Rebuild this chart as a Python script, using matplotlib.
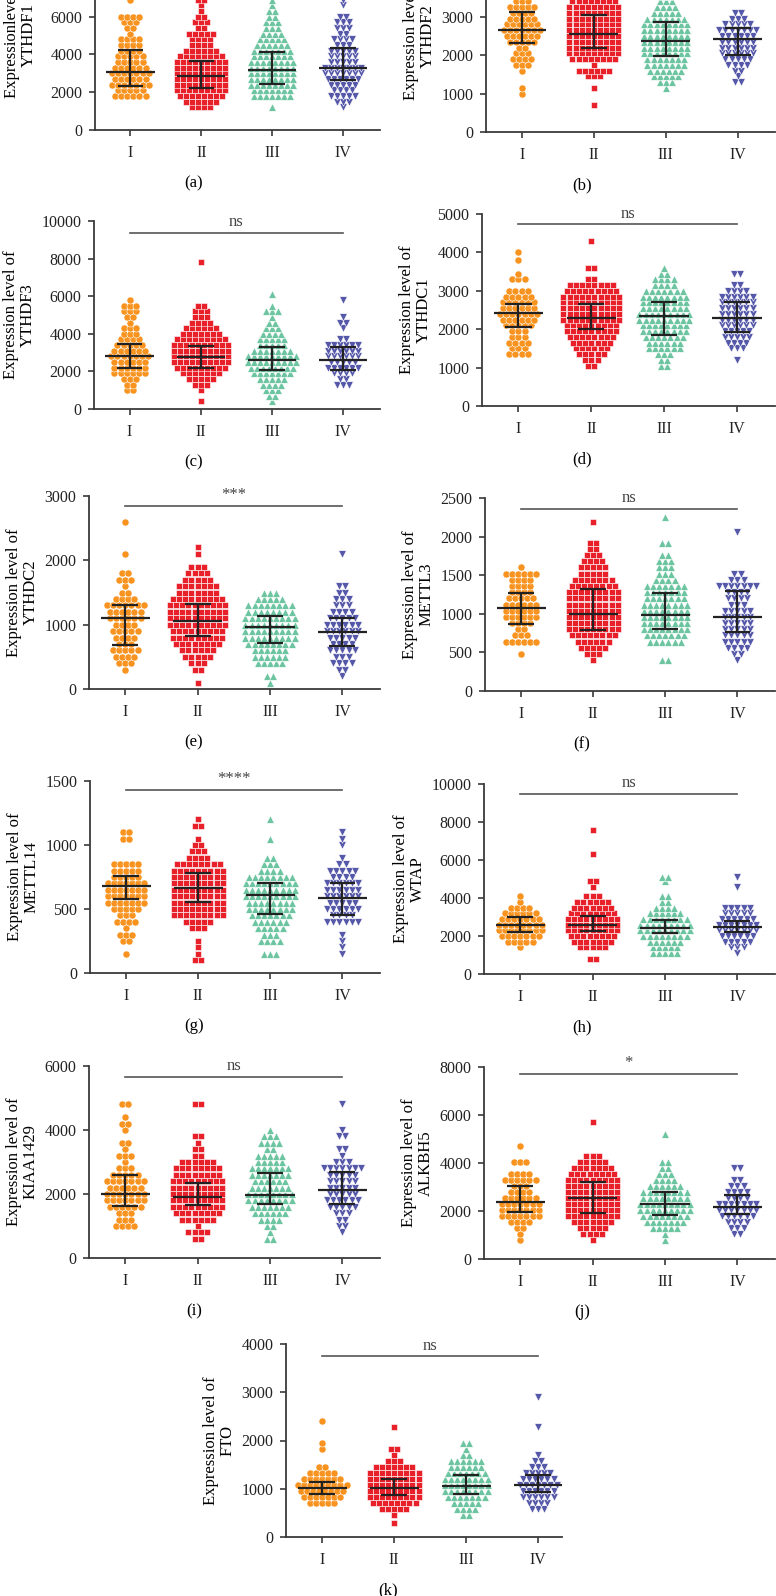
import matplotlib.pyplot as plt

plt.rcParams['font.family'] = ['Liberation Serif', 'DejaVu Serif']

groups = ['I', 'II', 'III', 'IV']
colors = ['#F7931E', '#E8202A', '#6CC5A0', '#5558A8']
markers = ['o', 's', '^', 'v']
msizes = [26, 22, 30, 30]

# each panel: row levels of the swarm and how many points sit in each row, per stage
# (a) YTHDF1
a_levels = [1200, 1500, 1800, 2100, 2400, 2700, 3000, 3300, 3600, 3900, 4200, 4500, 4800, 5100, 5400, 5700, 6000, 6300, 6600, 6900, 7200]
a_I = [0, 0, 6, 5, 7, 6, 7, 6, 5, 5, 4, 4, 4, 1, 2, 3, 4, 0, 0, 1, 0]
a_II = [4, 6, 8, 9, 9, 9, 9, 9, 9, 8, 6, 4, 4, 5, 2, 3, 2, 1, 1, 2, 1]
a_III = [1, 0, 7, 7, 8, 8, 8, 8, 8, 7, 7, 6, 5, 4, 3, 3, 2, 2, 1, 1, 0]
a_IV = [1, 3, 5, 4, 5, 6, 7, 7, 5, 5, 5, 3, 4, 2, 3, 3, 2, 0, 1, 1, 0]
a_med = [3050, 2850, 3150, 3300]
a_q1 = [2350, 2200, 2450, 2650]
a_q3 = [4250, 3650, 4150, 4330]

# (b) YTHDF2
b_levels = [700, 850, 1000, 1150, 1300, 1450, 1600, 1750, 1900, 2050, 2200, 2350, 2500, 2650, 2800, 2950, 3100, 3250, 3400, 3550, 3700]
b_I = [0, 0, 1, 1, 0, 0, 1, 3, 4, 3, 2, 5, 6, 7, 6, 5, 4, 5, 3, 2, 1]
b_II = [1, 0, 0, 1, 0, 3, 6, 1, 8, 9, 9, 9, 9, 9, 9, 9, 9, 9, 8, 5, 3]
b_III = [0, 0, 0, 1, 3, 5, 6, 7, 7, 8, 8, 8, 8, 8, 8, 7, 5, 4, 3, 2, 1]
b_IV = [0, 0, 0, 0, 2, 1, 2, 4, 5, 6, 6, 6, 6, 7, 5, 3, 2, 0, 0, 1, 0]
b_med = [2650, 2560, 2370, 2430]
b_q1 = [2320, 2180, 1980, 2010]
b_q3 = [3130, 3050, 2870, 2720]

# (c) YTHDF3
c_levels = [400, 700, 1000, 1300, 1600, 1900, 2200, 2500, 2800, 3100, 3400, 3700, 4000, 4300, 4600, 4900, 5200, 5500, 5800, 6100, 7800]
c_I = [0, 0, 2, 2, 3, 6, 6, 6, 7, 6, 5, 4, 3, 3, 1, 2, 3, 3, 1, 0, 0]
c_II = [1, 0, 1, 3, 5, 7, 9, 10, 10, 10, 10, 9, 7, 6, 4, 3, 3, 2, 0, 0, 1]
c_III = [1, 2, 3, 4, 5, 7, 8, 9, 9, 7, 5, 5, 4, 3, 2, 1, 3, 1, 0, 1, 0]
c_IV = [0, 0, 0, 3, 2, 4, 6, 5, 6, 6, 6, 2, 0, 1, 2, 1, 0, 0, 1, 0, 0]
c_med = [2820, 2750, 2600, 2600]
c_q1 = [2200, 2180, 2050, 2050]
c_q3 = [3470, 3360, 3280, 3300]

# (d) YTHDC1
d_levels = [1050, 1200, 1350, 1500, 1650, 1800, 1950, 2100, 2250, 2400, 2550, 2700, 2850, 3000, 3150, 3300, 3450, 3600, 3800, 4000, 4300]
d_I = [0, 0, 4, 3, 4, 3, 3, 5, 6, 7, 6, 6, 5, 4, 0, 3, 1, 0, 1, 1, 0]
d_II = [2, 3, 5, 6, 7, 8, 9, 9, 10, 10, 10, 10, 10, 9, 8, 2, 0, 2, 0, 0, 1]
d_III = [2, 2, 3, 6, 6, 7, 8, 8, 9, 9, 8, 8, 8, 7, 4, 4, 2, 1, 0, 0, 0]
d_IV = [0, 1, 0, 3, 4, 5, 5, 6, 6, 6, 6, 6, 6, 4, 2, 0, 2, 0, 0, 0, 0]
d_med = [2420, 2300, 2350, 2300]
d_q1 = [2060, 2000, 1860, 1940]
d_q3 = [2650, 2650, 2720, 2720]

# (e) YTHDC2
e_levels = [100, 200, 300, 400, 500, 600, 700, 800, 900, 1000, 1100, 1200, 1300, 1400, 1500, 1600, 1700, 1800, 1900, 2000, 2100, 2200, 2600]
e_I = [0, 0, 1, 3, 4, 5, 3, 4, 5, 4, 6, 6, 7, 4, 2, 1, 3, 2, 0, 0, 1, 0, 1]
e_II = [1, 0, 2, 3, 5, 6, 8, 9, 9, 10, 10, 10, 10, 9, 7, 7, 5, 4, 3, 0, 1, 1, 0]
e_III = [1, 2, 0, 5, 6, 6, 8, 9, 9, 9, 9, 8, 8, 5, 3, 0, 0, 0, 0, 0, 0, 0, 0]
e_IV = [0, 1, 2, 4, 3, 5, 4, 5, 6, 6, 5, 4, 3, 3, 2, 2, 0, 0, 0, 0, 1, 0, 0]
e_med = [1100, 1050, 960, 880]
e_q1 = [690, 830, 720, 670]
e_q3 = [1310, 1320, 1130, 1110]

# (f) METTL3
f_levels = [400, 480, 560, 640, 720, 800, 880, 960, 1040, 1120, 1200, 1280, 1360, 1440, 1520, 1600, 1680, 1760, 1840, 1920, 2060, 2190, 2250]
f_I = [0, 1, 0, 6, 3, 2, 4, 6, 6, 6, 5, 4, 4, 4, 6, 1, 0, 0, 0, 0, 0, 0, 0]
f_II = [1, 3, 5, 6, 8, 9, 9, 9, 9, 9, 9, 9, 8, 7, 5, 5, 4, 3, 2, 2, 0, 1, 0]
f_III = [2, 0, 0, 6, 7, 8, 8, 8, 8, 8, 7, 7, 7, 4, 3, 3, 3, 2, 0, 2, 0, 0, 1]
f_IV = [1, 2, 4, 5, 5, 5, 5, 5, 5, 3, 4, 4, 7, 3, 2, 0, 0, 0, 0, 0, 1, 0, 0]
f_med = [1070, 1000, 990, 960]
f_q1 = [870, 790, 800, 760]
f_q3 = [1270, 1320, 1270, 1290]

# (g) METTL14
g_levels = [100, 150, 200, 250, 300, 350, 400, 450, 500, 550, 600, 650, 700, 750, 800, 850, 900, 950, 1000, 1050, 1100, 1150, 1200]
g_I = [0, 1, 0, 2, 3, 1, 4, 3, 5, 7, 7, 7, 7, 5, 5, 5, 0, 0, 0, 2, 2, 0, 0]
g_II = [2, 1, 1, 1, 0, 3, 5, 9, 9, 9, 9, 9, 9, 9, 9, 8, 4, 3, 2, 1, 0, 2, 1]
g_III = [0, 3, 0, 4, 3, 5, 6, 7, 8, 8, 9, 9, 9, 8, 4, 3, 2, 0, 0, 1, 0, 0, 1]
g_IV = [0, 1, 1, 1, 1, 0, 6, 4, 6, 5, 6, 6, 6, 4, 5, 2, 1, 0, 1, 1, 1, 0, 0]
g_med = [680, 665, 610, 585]
g_q1 = [580, 555, 460, 450]
g_q3 = [760, 780, 700, 700]

# (h) WTAP
h_levels = [800, 1100, 1400, 1700, 2000, 2300, 2600, 2900, 3200, 3500, 3800, 4100, 4600, 4900, 5100, 6300, 7600]
h_I = [0, 0, 1, 5, 7, 8, 8, 7, 6, 4, 1, 1, 0, 0, 0, 0, 0]
h_II = [2, 0, 5, 7, 8, 9, 9, 9, 8, 7, 6, 3, 1, 2, 0, 1, 1]
h_III = [0, 5, 5, 6, 8, 9, 9, 8, 6, 4, 2, 2, 0, 1, 2, 0, 0]
h_IV = [0, 1, 3, 5, 6, 7, 7, 6, 5, 5, 0, 0, 1, 0, 1, 0, 0]
h_med = [2600, 2570, 2430, 2480]
h_q1 = [2200, 2250, 2150, 2200]
h_q3 = [3000, 3050, 2850, 2800]

# (i) KIAA1429
i_levels = [600, 800, 1000, 1200, 1400, 1600, 1800, 2000, 2200, 2400, 2600, 2800, 3000, 3200, 3400, 3600, 3800, 4000, 4200, 4400, 4600, 4800]
i_I = [0, 0, 4, 3, 3, 6, 7, 7, 6, 7, 5, 3, 1, 3, 1, 2, 0, 1, 2, 1, 0, 2]
i_II = [2, 4, 1, 6, 8, 9, 9, 9, 9, 9, 8, 8, 6, 2, 2, 1, 2, 0, 0, 0, 0, 2]
i_III = [2, 1, 2, 4, 6, 7, 8, 8, 7, 6, 7, 7, 5, 5, 2, 4, 3, 1, 0, 0, 0, 0]
i_IV = [0, 1, 2, 2, 3, 5, 6, 5, 5, 5, 5, 7, 3, 1, 2, 0, 2, 1, 0, 0, 0, 1]
i_med = [2000, 1900, 1960, 2120]
i_q1 = [1620, 1650, 1680, 1700]
i_q3 = [2600, 2350, 2660, 2690]

# (j) ALKBH5
j_levels = [800, 1050, 1300, 1550, 1800, 2050, 2300, 2550, 2800, 3050, 3300, 3550, 3800, 4050, 4300, 4700, 5200, 5700]
j_I = [1, 1, 2, 4, 7, 7, 7, 6, 4, 3, 6, 4, 0, 3, 0, 1, 0, 0]
j_II = [1, 4, 5, 7, 9, 9, 9, 9, 9, 9, 9, 8, 7, 5, 3, 0, 0, 1]
j_III = [1, 1, 5, 7, 8, 9, 9, 8, 8, 6, 4, 3, 2, 2, 0, 0, 1, 0]
j_IV = [0, 2, 3, 4, 6, 7, 7, 4, 4, 3, 2, 0, 2, 0, 0, 0, 0, 0]
j_med = [2380, 2530, 2300, 2150]
j_q1 = [1950, 1930, 1850, 1880]
j_q3 = [3050, 3200, 2780, 2650]

# (k) FTO
k_levels = [300, 450, 575, 700, 825, 950, 1075, 1200, 1325, 1450, 1575, 1700, 1825, 1950, 2275, 2400, 2900]
k_I = [0, 0, 0, 5, 7, 8, 9, 7, 5, 2, 0, 0, 1, 1, 0, 1, 0]
k_II = [1, 1, 5, 8, 9, 9, 9, 9, 9, 7, 3, 1, 2, 0, 1, 0, 0]
k_III = [0, 2, 4, 5, 7, 8, 8, 8, 7, 6, 6, 2, 1, 2, 0, 0, 0]
k_IV = [0, 0, 3, 4, 6, 6, 7, 6, 5, 3, 2, 1, 0, 0, 1, 0, 1]
k_med = [1010, 1010, 1050, 1080]
k_q1 = [900, 870, 900, 930]
k_q3 = [1150, 1200, 1280, 1290]

# gene, y max, y step, significance label, significance height
genes = ['YTHDF1', 'YTHDF2', 'YTHDF3', 'YTHDC1', 'YTHDC2', 'METTL3',
         'METTL14', 'WTAP', 'KIAA1429', 'ALKBH5', 'FTO']
ymax = [10000, 5000, 10000, 5000, 3000, 2500, 1500, 10000, 6000, 8000, 4000]
ystep = [2000, 1000, 2000, 1000, 1000, 500, 500, 2000, 2000, 2000, 1000]
sig_text = [None, None, 'ns', 'ns', '***', 'ns', '****', 'ns', 'ns', '*', 'ns']
sig_y = [None, None, 9350, 4730, 2850, 2360, 1430, 9490, 5660, 7700, 3745]

levels = [a_levels, b_levels, c_levels, d_levels, e_levels, f_levels,
          g_levels, h_levels, i_levels, j_levels, k_levels]
counts = [[a_I, a_II, a_III, a_IV], [b_I, b_II, b_III, b_IV],
          [c_I, c_II, c_III, c_IV], [d_I, d_II, d_III, d_IV],
          [e_I, e_II, e_III, e_IV], [f_I, f_II, f_III, f_IV],
          [g_I, g_II, g_III, g_IV], [h_I, h_II, h_III, h_IV],
          [i_I, i_II, i_III, i_IV], [j_I, j_II, j_III, j_IV],
          [k_I, k_II, k_III, k_IV]]
meds = [a_med, b_med, c_med, d_med, e_med, f_med, g_med, h_med, i_med, j_med, k_med]
q1s = [a_q1, b_q1, c_q1, d_q1, e_q1, f_q1, g_q1, h_q1, i_q1, j_q1, k_q1]
q3s = [a_q3, b_q3, c_q3, d_q3, e_q3, f_q3, g_q3, h_q3, i_q3, j_q3, k_q3]

# axes boxes in pixels: left, bottom, right, top (a and b run off the top of the page)
W, H = 776, 1596
boxes = [(95, 130, 380, -59), (486, 132, 775, -60),
         (94, 409, 380, 221), (482, 406, 775, 214),
         (89, 689, 380, 496), (485, 691, 775, 498),
         (90, 973, 380, 781), (484, 974, 775, 784),
         (89, 1258, 380, 1066), (484, 1259, 775, 1067),
         (286, 1537, 562, 1344)]
panel_x = [194, 582] * 5 + [388]
letters = 'abcdefghijk'

fig = plt.figure(figsize=(W / 100, H / 100), dpi=100)

for n in range(11):
    l, b, r, t = boxes[n]
    ax = fig.add_axes([l / W, (H - b) / H, (r - l) / W, (b - t) / H])

    # swarm rows
    for g in range(4):
        xs, ys = [], []
        for lv, cnt in zip(levels[n], counts[n][g]):
            for j in range(cnt):
                xs.append(g + 1 + (j - (cnt - 1) / 2) * 0.085)
                ys.append(lv)
        ax.scatter(xs, ys, s=msizes[g], c=colors[g], marker=markers[g],
                   edgecolors='white', linewidths=0.4, zorder=2)

    # median with interquartile range
    for g in range(4):
        x = g + 1
        ax.hlines(meds[n][g], x - 0.34, x + 0.34, color='#222222', lw=1.6, zorder=3)
        ax.vlines(x, q1s[n][g], q3s[n][g], color='#222222', lw=1.6, zorder=3)
        ax.hlines([q1s[n][g], q3s[n][g]], x - 0.18, x + 0.18, color='#222222', lw=1.6, zorder=3)

    if sig_text[n]:
        ax.plot([1, 4], [sig_y[n], sig_y[n]], color='#555555', lw=1.2, clip_on=False)
        ax.annotate(sig_text[n], (2.5, sig_y[n]), xytext=(0, 2), textcoords='offset points',
                    ha='center', va='bottom', fontsize=12, color='#444444')

    ax.set_xlim(0.5, 4.33 if n == 10 else 4.52)
    ax.set_ylim(0, ymax[n])
    ax.set_yticks(range(0, ymax[n] + 1, ystep[n]))
    ax.set_xticks([1, 2, 3, 4])
    ax.set_xticklabels(groups)
    for side in ['top', 'right']:
        ax.spines[side].set_visible(False)
    for side in ['left', 'bottom']:
        ax.spines[side].set_color('#3a3a3a')
        ax.spines[side].set_linewidth(1.3)
    ax.tick_params(length=4, width=1.2, color='#3a3a3a', labelsize=11.5, pad=5,
                   labelcolor='#222222')
    ax.tick_params(axis='x', pad=7)
    prefix = 'Expressionlevel of' if n == 0 else 'Expression level of'
    ax.set_ylabel(prefix + '\n' + genes[n], fontsize=12, labelpad=4, linespacing=1.1)

    fig.text(panel_x[n] / W, 1 - (b + 53) / H, '(' + letters[n] + ')',
             ha='center', va='center', fontsize=12)

fig.savefig('out.png', dpi=100)
